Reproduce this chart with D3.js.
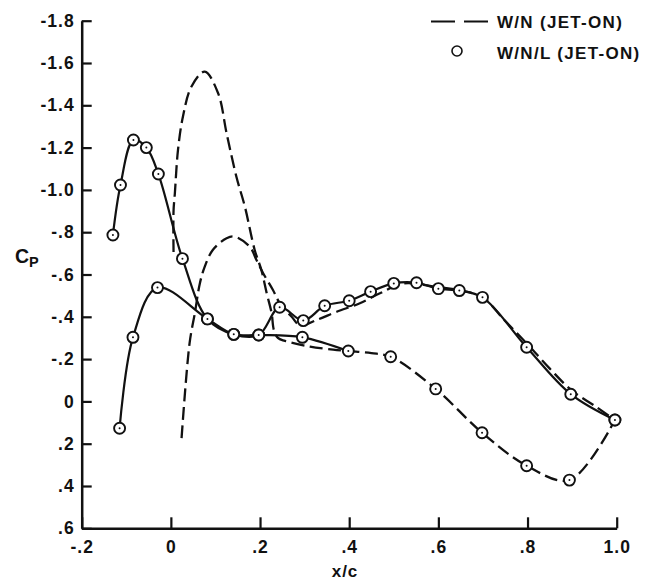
<!DOCTYPE html>
<html><head><meta charset="utf-8">
<script src="https://cdn.jsdelivr.net/npm/d3@7"></script>
<style>
html,body{margin:0;padding:0;background:#fff;}
svg text{font-family:"Liberation Sans",Arial,Helvetica,sans-serif;font-weight:bold;fill:#111;}
</style></head><body>
<svg id="chart" width="667" height="583"></svg>
<script>
// ---- tick labels ----
const xTickValues = [-0.2, 0, 0.2, 0.4, 0.6, 0.8, 1.0];
const xTickLabels = ["-.2", "0", ".2", ".4", ".6", ".8", "1.0"];
const yTickValues = [-1.8, -1.6, -1.4, -1.2, -1.0, -0.8, -0.6, -0.4, -0.2, 0, 0.2, 0.4, 0.6];
const yTickLabels = ["-1.8", "-1.6", "-1.4", "-1.2", "-1.0", "-.8", "-.6", "-.4", "-.2", "0", ".2", ".4", ".6"];

// ---- series names ----
const seriesNames = ["W/N (JET-ON)", "W/N/L (JET-ON)"];

// ---- W/N/L (JET-ON), circles: upper branch ----
const wnlUpperX  = [-0.130, -0.113, -0.084, -0.055, -0.028, 0.026, 0.082, 0.141, 0.197, 0.244, 0.297, 0.345, 0.400, 0.448, 0.500, 0.551, 0.600, 0.647, 0.699, 0.798, 0.897, 0.996];
const wnlUpperCp = [-0.787, -1.023, -1.236, -1.200, -1.075, -0.675, -0.390, -0.317, -0.314, -0.445, -0.382, -0.452, -0.476, -0.519, -0.558, -0.561, -0.533, -0.524, -0.492, -0.256, -0.034, 0.088];

// ---- W/N/L (JET-ON), circles: lower branch ----
const wnlLowerX  = [-0.115, -0.085, -0.030, 0.082, 0.141, 0.197, 0.295, 0.398, 0.493, 0.594, 0.698, 0.798, 0.894, 0.996];
const wnlLowerCp = [0.127, -0.303, -0.538, -0.390, -0.317, -0.314, -0.303, -0.238, -0.211, -0.059, 0.148, 0.304, 0.372, 0.088];

// ---- W/N (JET-ON), dashed: high-peak branch ----
const wnPeakX  = [0.006, 0.006, 0.009, 0.016, 0.027, 0.046, 0.076, 0.106, 0.125, 0.147, 0.166, 0.188, 0.203, 0.215, 0.226, 0.231, 0.240, 0.256, 0.312, 0.364, 0.398, 0.450, 0.493, 0.594, 0.698, 0.798, 0.894, 0.996];
const wnPeakCp = [-0.706, -0.900, -0.985, -1.189, -1.346, -1.488, -1.559, -1.457, -1.268, -1.062, -0.921, -0.716, -0.621, -0.511, -0.417, -0.338, -0.300, -0.286, -0.259, -0.245, -0.238, -0.228, -0.211, -0.059, 0.148, 0.304, 0.372, 0.088];

// ---- W/N (JET-ON), dashed: low-peak branch ----
const wnBumpX  = [0.024, 0.042, 0.054, 0.065, 0.076, 0.094, 0.125, 0.143, 0.177, 0.192, 0.207, 0.229, 0.244, 0.271, 0.290, 0.327, 0.372, 0.424, 0.469, 0.521, 0.600, 0.650, 0.700, 0.750, 0.800, 0.850, 0.900, 0.950, 0.996];
const wnBumpCp = [0.174, -0.276, -0.420, -0.558, -0.637, -0.716, -0.771, -0.779, -0.731, -0.669, -0.606, -0.527, -0.465, -0.400, -0.360, -0.385, -0.424, -0.464, -0.511, -0.558, -0.540, -0.525, -0.490, -0.380, -0.270, -0.155, -0.050, 0.020, 0.088];

// ---- build ----
const svg = d3.select("#chart");
const x = d3.scaleLinear().domain([-0.2, 1.0]).range([81.7, 616.7]);
const y = d3.scaleLinear().domain([-1.8, 0.6]).range([20.7, 528.3]);

const zip = (xs, ys) => xs.map((v, i) => ({x: v, y: ys[i]}));
const line = d3.line().x(d => x(d.x)).y(d => y(d.y)).curve(d3.curveCatmullRom.alpha(0.5));

// axes
const yAxis = d3.axisLeft(y).tickValues(yTickValues)
  .tickFormat((d, i) => yTickLabels[i]).tickSizeInner(-10).tickSizeOuter(0).tickPadding(7);
const xAxis = d3.axisBottom(x).tickValues(xTickValues)
  .tickFormat((d, i) => xTickLabels[i]).tickSizeInner(-11).tickSizeOuter(0).tickPadding(12);

const gy = svg.append("g").attr("transform", `translate(${x(-0.2)},0)`).call(yAxis);
const gx = svg.append("g").attr("transform", `translate(0,${y(0.6)})`).call(xAxis);
[gx, gy].forEach(g => {
  g.select(".domain").attr("stroke", "#111").attr("stroke-width", 2.5);
  g.selectAll(".tick line").attr("stroke", "#111").attr("stroke-width", 2.2);
  g.selectAll(".tick text").attr("font-size", 17.5).attr("letter-spacing", "1px")
    .attr("font-family", '"Liberation Sans", Arial, sans-serif').attr("font-weight", "bold").attr("fill", "#111");
});

// axis titles
const cp = svg.append("text").attr("x", 15).attr("y", 263).attr("font-size", 19.5);
cp.append("tspan").text("C");
cp.append("tspan").attr("font-size", 14.5).attr("dy", 4).text("P");
svg.append("text").attr("x", 345).attr("y", 577).attr("text-anchor", "middle")
  .attr("font-size", 17).attr("letter-spacing", "1px").text("x/c");

// dashed W/N curves
const dashStyle = "13,5.5";
[zip(wnPeakX, wnPeakCp), zip(wnBumpX, wnBumpCp)].forEach(pts => {
  svg.append("path").attr("d", line(pts)).attr("fill", "none")
    .attr("stroke", "#111").attr("stroke-width", 2.3).attr("stroke-dasharray", dashStyle);
});

// solid W/N/L curves
const upperPts = zip(wnlUpperX, wnlUpperCp);
const lowerPts = zip(wnlLowerX, wnlLowerCp);
svg.append("path").attr("d", line(upperPts)).attr("fill", "none").attr("stroke", "#111").attr("stroke-width", 2.2);
svg.append("path").attr("d", line(lowerPts.filter(d => d.x <= 0.4))).attr("fill", "none").attr("stroke", "#111").attr("stroke-width", 2.2);

// markers
const marks = svg.append("g").selectAll("g").data(upperPts.concat(lowerPts)).join("g")
  .attr("transform", d => `translate(${x(d.x)},${y(d.y)})`);
marks.append("circle").attr("r", 5.5).attr("fill", "#fff").attr("stroke", "#111").attr("stroke-width", 1.9);
marks.append("circle").attr("r", 1).attr("fill", "#111");

// legend
const leg = svg.append("g");
leg.append("line").attr("x1", 431).attr("x2", 489).attr("y1", 21.5).attr("y2", 21.5)
  .attr("stroke", "#111").attr("stroke-width", 2.2).attr("stroke-dasharray", "24,9");
leg.append("text").attr("x", 497).attr("y", 28).attr("font-size", 17).attr("letter-spacing", "1.3px").text(seriesNames[0]);
leg.append("circle").attr("cx", 457).attr("cy", 51).attr("r", 5).attr("fill", "#fff").attr("stroke", "#111").attr("stroke-width", 1.6);
leg.append("text").attr("x", 497).attr("y", 58.5).attr("font-size", 17).attr("letter-spacing", "1.3px").text(seriesNames[1]);
</script>
</body></html>
